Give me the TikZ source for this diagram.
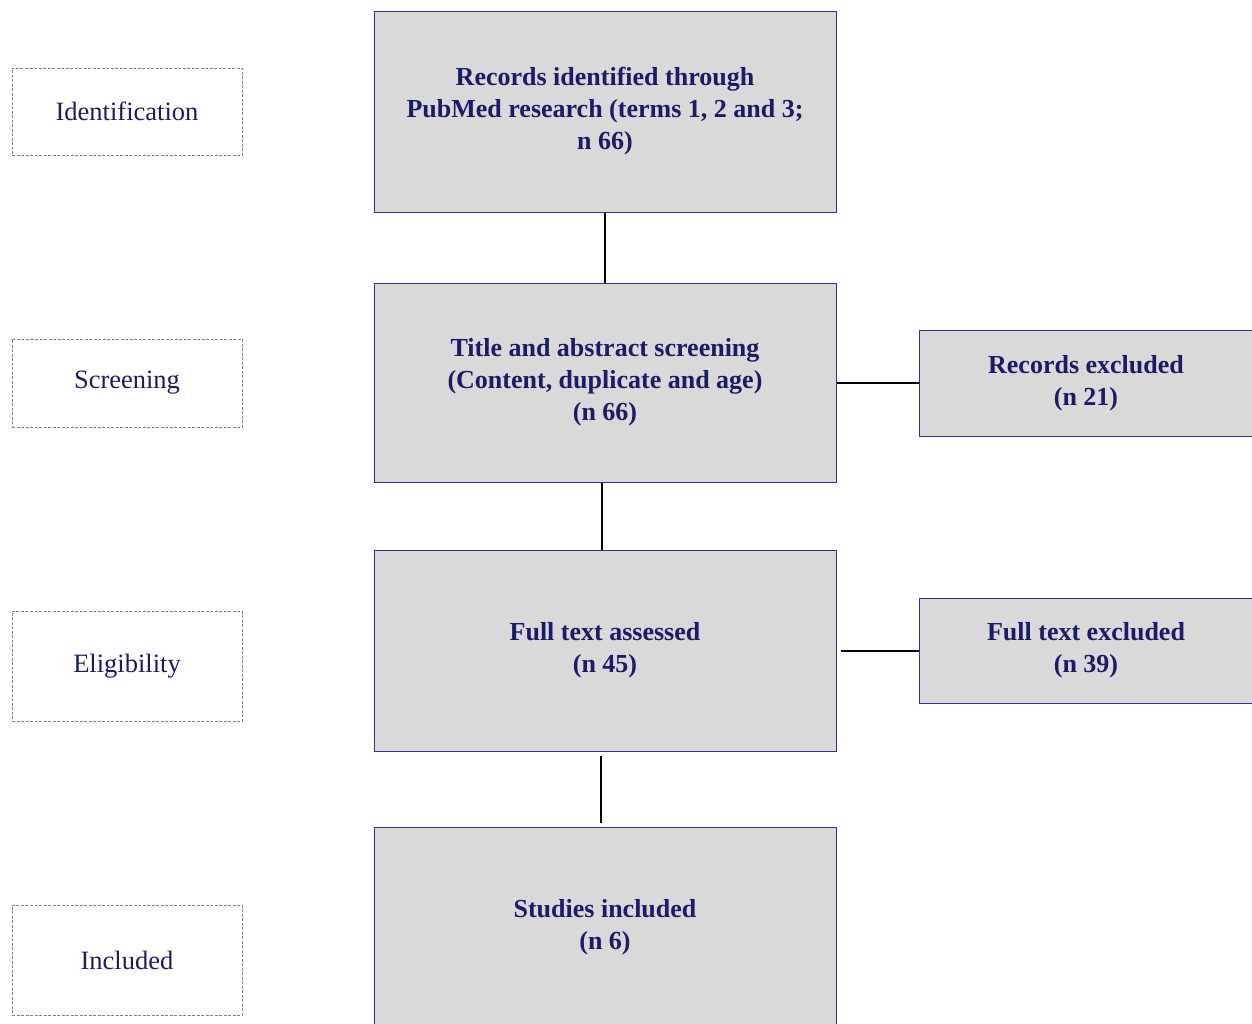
\documentclass[tikz,border=0pt]{standalone}
\usepackage{fontspec}
\setmainfont{Liberation Serif}
\definecolor{navytext}{HTML}{1B1B68}
\definecolor{boxline}{HTML}{2E3192}
\definecolor{boxfill}{HTML}{D9D9D9}
\definecolor{dashline}{HTML}{808080}
\tikzset{
  x=1pt, y=-1pt,
  mainbox/.style={draw=boxline, line width=1pt, fill=boxfill, rectangle, inner sep=0pt,
    align=center, text=navytext, font=\fontsize{26}{32}\selectfont\bfseries},
  stagebox/.style={draw=dashline, dashed, dash pattern=on 3pt off 1.5pt, line width=1pt, rectangle, inner sep=0pt,
    minimum width=230pt, align=center, text=navytext, font=\fontsize{26.5}{32}\selectfont},
  link/.style={draw=black, line width=2pt}
}
\begin{document}
\begin{tikzpicture}
\useasboundingbox (0,0) rectangle (1252,1023);
\begin{scope}
\clip (0,0) rectangle (1252,1023);
% stage labels
\node[stagebox, minimum height=87pt] (sid) at (127,111.5) {Identification};
\node[stagebox, minimum height=88pt] (ssc) at (127,383) {Screening};
\node[stagebox, minimum height=110pt] (sel) at (127,666) {Eligibility};
\node[stagebox, minimum height=110pt] (sin) at (127,960) {Included};
% main boxes
\node[mainbox, minimum width=462pt, minimum height=201pt] (b1) at (605,111.5)
  {Records identified through\\PubMed research (terms 1, 2 and 3;\\n 66)};
\node[mainbox, minimum width=462pt, minimum height=199pt] (b2) at (605,382.5)
  {Title and abstract screening\\(Content, duplicate and age)\\(n 66)};
\node[mainbox, minimum width=462pt, minimum height=201pt] (b3) at (605,650.5)
  {Full text assessed\\(n 45)};
\node[mainbox, minimum width=462pt, minimum height=200pt] (b4) at (605,927)
  {Studies included\\(n 6)};
% side boxes
\node[mainbox, minimum width=334pt, minimum height=106pt] (r1) at (1086,383)
  {Records excluded\\(n 21)};
\node[mainbox, minimum width=334pt, minimum height=105pt] (r2) at (1086,650.5)
  {Full text excluded\\(n 39)};
% connectors
\draw[link] (b1.south) -- (b2.north);
\draw[link] ([xshift=-3pt]b2.south) -- ([xshift=-3pt]b3.north);
\draw[link, shorten <=4pt, shorten >=4pt] ([xshift=-4pt]b3.south) -- ([xshift=-4pt]b4.north);
\draw[link] (b2.east |- r1.west) -- (r1.west);
\draw[link, shorten <=4pt] (b3.east |- r2.west) -- (r2.west);
\end{scope}
\end{tikzpicture}
\end{document}
